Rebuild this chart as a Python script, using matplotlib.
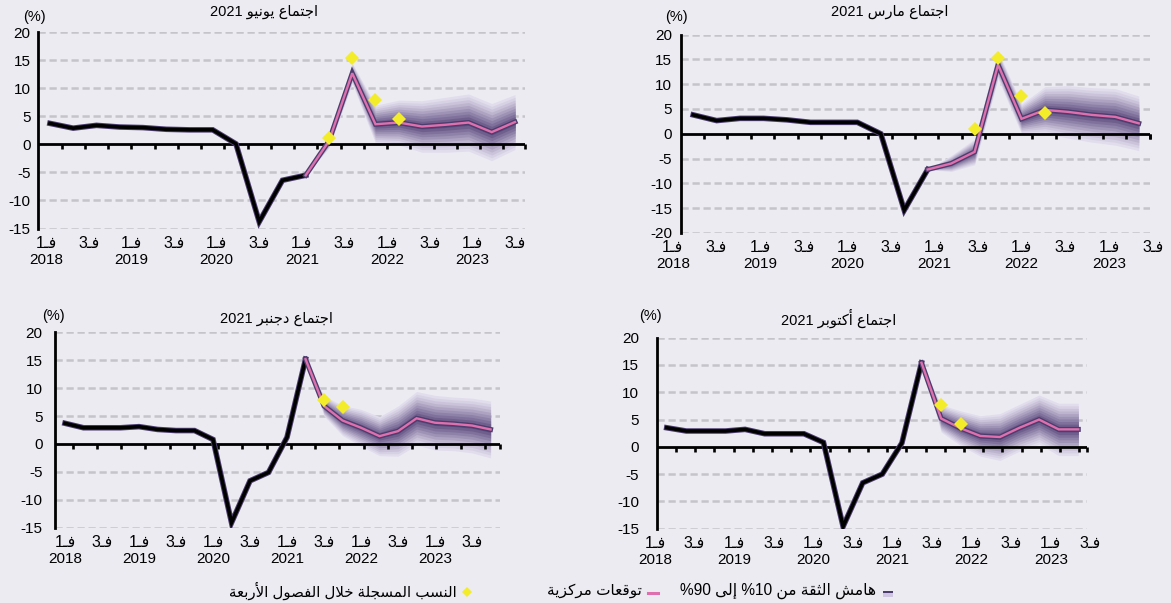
import re
import matplotlib
matplotlib.use('Agg')
import matplotlib.pyplot as plt
import matplotlib.markers as mmarkers
from matplotlib.patches import Rectangle
import numpy as np

plt.rcParams['font.family'] = ['Liberation Sans', 'DejaVu Sans']

# ---------------- data (quarter index 0 = 2018 Q1) ----------------
# June 2021 meeting
jun_hist = [3.75, 2.9, 3.4, 3.1, 3.0, 2.7, 2.6, 2.6, 0.1, -13.8, -6.4, -5.5]
jun_proj = [-5.5, 0.6, 12.7, 3.6, 3.9, 3.2, 3.5, 3.9, 2.2, 4.0]
jun_band = [0.0, 1.2, 1.8, 3.4, 4.0, 4.6, 4.9, 5.1, 5.1, 4.9]
jun_obs = [np.nan, 1.1, 15.4, 7.9, 4.5, np.nan, np.nan, np.nan, np.nan, np.nan]

# March 2021 meeting
mar_hist = [3.8, 2.65, 3.1, 3.1, 2.8, 2.3, 2.3, 2.3, 0.0, -15.4, -7.2]
mar_proj = [-7.2, -6.0, -3.65, 13.9, 3.0, 4.8, 4.4, 3.8, 3.4, 2.1]
mar_band = [0.0, 1.6, 2.6, 2.8, 3.0, 4.7, 5.3, 5.5, 5.7, 5.5]
mar_obs = [np.nan, np.nan, 1.0, 15.2, 7.7, 4.2, np.nan, np.nan, np.nan, np.nan]

# December 2021 meeting
dec_hist = [3.7, 2.9, 2.9, 2.9, 3.1, 2.6, 2.4, 2.4, 0.8, -14.1, -6.6, -5.1, 1.2, 15.2]
dec_proj = [15.2, 6.8, 4.2, 2.9, 1.4, 2.3, 4.6, 3.8, 3.6, 3.3, 2.6]
dec_band = [0.0, 1.8, 2.7, 3.3, 3.5, 4.5, 4.8, 4.9, 4.8, 4.9, 5.1]
dec_obs = [np.nan, 7.9, 6.7, np.nan, np.nan, np.nan, np.nan, np.nan, np.nan, np.nan, np.nan]

# October 2021 meeting
oct_hist = [3.5, 2.9, 2.9, 2.9, 3.2, 2.4, 2.4, 2.4, 0.8, -14.6, -6.6, -5.0, 0.7, 15.4]
oct_proj = [15.4, 5.2, 3.4, 2.0, 1.8, 3.5, 5.0, 3.2, 3.2]
oct_band = [0.0, 2.5, 3.2, 3.7, 4.3, 4.3, 4.5, 4.8, 4.8]
oct_obs = [np.nan, 7.7, 4.1, np.nan, np.nan, np.nan, np.nan, np.nan, np.nan]

quarter_labels = ['فـ1', 'فـ3'] * 6
year_labels = ['2018', '2019', '2020', '2021', '2022', '2023']

titles = ['اجتماع يونيو 2021', 'اجتماع مارس 2021', 'اجتماع دجنبر 2021', 'اجتماع أكتوبر 2021']
legend_texts = ['هامش الثقة من 10% إلى 90%', 'توقعات مركزية',
                'النسب المسجلة خلال الفصول الأربعة']

# ---------------- minimal Arabic shaping ----------------
DUAL = {'ئ': 0xFE89, 'ب': 0xFE8F, 'ت': 0xFE95, 'ث': 0xFE99, 'ج': 0xFE9D, 'ح': 0xFEA1,
        'خ': 0xFEA5, 'س': 0xFEB1, 'ش': 0xFEB5, 'ص': 0xFEB9, 'ض': 0xFEBD, 'ط': 0xFEC1,
        'ظ': 0xFEC5, 'ع': 0xFEC9, 'غ': 0xFECD, 'ف': 0xFED1, 'ق': 0xFED5, 'ك': 0xFED9,
        'ل': 0xFEDD, 'م': 0xFEE1, 'ن': 0xFEE5, 'ه': 0xFEE9, 'ي': 0xFEF1}
RIGHT = {'آ': 0xFE81, 'أ': 0xFE83, 'ؤ': 0xFE85, 'إ': 0xFE87, 'ا': 0xFE8D, 'ة': 0xFE93,
         'د': 0xFEA9, 'ذ': 0xFEAB, 'ر': 0xFEAD, 'ز': 0xFEAF, 'و': 0xFEED, 'ى': 0xFEEF}
LAM_ALEF = {'آ': 0xFEF5, 'أ': 0xFEF7, 'إ': 0xFEF9, 'ا': 0xFEFB}
TATWEEL = 'ـ'


def shape(s):
    def joins_next(c):
        return c in DUAL or c == TATWEEL

    def joins(c):
        return c in DUAL or c in RIGHT or c == TATWEEL

    out = []
    i = 0
    while i < len(s):
        c = s[i]
        prev = s[i - 1] if i > 0 else ''
        nxt = s[i + 1] if i + 1 < len(s) else ''
        cp = joins_next(prev) and joins(c)
        if c == 'ل' and nxt in LAM_ALEF:
            out.append(chr(LAM_ALEF[nxt] + (1 if cp else 0)))
            i += 2
            continue
        if c in DUAL:
            cn = joins(nxt)
            out.append(chr(DUAL[c] + {(False, False): 0, (True, False): 1,
                                      (False, True): 2, (True, True): 3}[(cp, cn)]))
        elif c in RIGHT:
            out.append(chr(RIGHT[c] + (1 if cp else 0)))
        else:
            out.append(c)
        i += 1
    return ''.join(out)


def ar(s):
    """Shape and put into visual (left-to-right) order; percent sign goes first,
    as in the source document."""
    t = shape(s)
    runs = re.findall(r'[0-9A-Za-z%.()]+|[^0-9A-Za-z%.()]+', t)
    vis = []
    for r in reversed(runs):
        if re.match(r'[0-9A-Za-z%.()]', r):
            if r.endswith('%'):
                r = '%' + r[:-1]
            vis.append(r)
        else:
            vis.append(r[::-1])
    return ''.join(vis)


# ---------------- styling ----------------
BG = '#ecebf2'
PINK = '#de70ad'
HALO = '#4c3d6e'
YELLOW = '#f3ec2a'
GRID = '#c5c4ca'
FS = 10
band_fracs = [1.0, 0.9, 0.8, 0.7, 0.6, 0.5, 0.4, 0.3, 0.2, 0.1]
c_out = np.array([0.885, 0.865, 0.93])
c_in = np.array([0.37, 0.30, 0.50])
band_cols = [c_out + (c_in - c_out) * (k / (len(band_fracs) - 1)) ** 1.15
             for k in range(len(band_fracs))]

W, H = 1171, 603
fig = plt.figure(figsize=(W / 100, H / 100), dpi=100, facecolor=BG)

# layout in pixels: left, right, top, bottom
panels = [
    dict(hist=jun_hist, proj=jun_proj, band=jun_band, obs=jun_obs,
         box=(38.3, 525, 32.3, 228.5), ylim=(-15, 20), xlim=(-0.5, 20.43),
         lab0=-0.17, labstep=1.834, tick0=0.5, tickstep=1.0, pad=5.5,
         title=(264, 12), pct=(34, 17)),
    dict(hist=mar_hist, proj=mar_proj, band=mar_band, obs=mar_obs,
         box=(681, 1150, 34.5, 233), ylim=(-20, 20), xlim=(-0.52, 19.48),
         lab0=-0.87, labstep=1.86, tick0=0.46, tickstep=1.0, pad=6.5,
         title=(890, 12), pct=(676, 17)),
    dict(hist=dec_hist, proj=dec_proj, band=dec_band, obs=dec_obs,
         box=(55, 500, 332.3, 527.7), ylim=(-15, 20), xlim=(-0.54, 23.51),
         lab0=0.0, labstep=2.0, tick0=0.42, tickstep=1.31, pad=9.0,
         title=(276, 319), pct=(53, 316)),
    dict(hist=oct_hist, proj=oct_proj, band=oct_band, obs=oct_obs,
         box=(657.3, 1087.3, 337.7, 528.7), ylim=(-15, 20), xlim=(-0.48, 21.46),
         lab0=-0.6, labstep=2.02, tick0=0.47, tickstep=0.98, pad=13.0,
         title=(839, 318), pct=(650, 316)),
]

for p, title in zip(panels, titles):
    l, r, t, b = p['box']
    ax = fig.add_axes([l / W, 1 - b / H, (r - l) / W, (b - t) / H])
    ax.set_facecolor('none')
    ax.set_xlim(*p['xlim'])
    ax.set_ylim(*p['ylim'])
    for s in ['top', 'right', 'bottom']:
        ax.spines[s].set_visible(False)
    ax.spines['left'].set_linewidth(2.0)
    ax.spines['left'].set_zorder(6)
    yt = np.arange(p['ylim'][0], p['ylim'][1] + 1, 5)
    ax.set_yticks(yt)
    ax.set_yticklabels([str(v) for v in yt])
    ax.tick_params(axis='y', length=0, pad=p['pad'], labelsize=FS + 1)
    ax.set_xticks([])

    for v in yt:
        if v != 0:
            ax.axhline(v, color=GRID, lw=1.8, ls=(0, (2.9, 1.5)), zorder=0)

    # fan chart
    n_hist = len(p['hist'])
    xp = np.arange(n_hist - 1, n_hist - 1 + len(p['proj']))
    cen = np.array(p['proj'])
    hw = np.array(p['band'])
    for f, col in zip(band_fracs, band_cols):
        ax.fill_between(xp, cen - f * hw, cen + f * hw, color=col, lw=0, zorder=2)

    # zero line with ticks
    ax.axhline(0, color='black', lw=2.0, zorder=3)
    tx = np.arange(p['tick0'], p['xlim'][1], p['tickstep'])
    tx = np.append(tx, p['xlim'][1] - 0.02)
    ax.plot(tx, np.zeros_like(tx), ls='none', marker=mmarkers.TICKDOWN,
            ms=3.6, mew=1.9, color='black', zorder=3, clip_on=False)

    # history
    xh = np.arange(n_hist)
    ax.plot(xh, p['hist'], color=HALO, lw=4.0, solid_joinstyle='miter', zorder=4)
    ax.plot(xh, p['hist'], color='black', lw=2.6, solid_joinstyle='miter', zorder=4)
    # central projection
    ax.plot(xp, cen, color=HALO, lw=3.6, solid_joinstyle='miter', zorder=4)
    ax.plot(xp, cen, color=PINK, lw=1.7, solid_joinstyle='miter', zorder=5)
    # observed values
    ax.plot(xp, p['obs'], ls='none', marker='D', ms=7, color=YELLOW, mew=0, zorder=7)

    # x labels
    for k, (ql, yl) in enumerate(zip(quarter_labels, [y for y in year_labels for _ in (0, 1)])):
        xl = p['lab0'] + k * p['labstep']
        ax.annotate(ar(ql), (xl, 0), xycoords=('data', 'axes fraction'),
                    xytext=(0, -10.5), textcoords='offset points',
                    ha='center', va='center', fontsize=FS + 1.5, annotation_clip=False)
        if k % 2 == 0:
            ax.annotate(yl, (xl, 0), xycoords=('data', 'axes fraction'),
                        xytext=(0, -22.5), textcoords='offset points',
                        ha='center', va='center', fontsize=FS + 1, annotation_clip=False)

# overlay in pixel coordinates for titles and legend
ov = fig.add_axes([0, 0, 1, 1], facecolor='none')
ov.set_xlim(0, W)
ov.set_ylim(H, 0)
ov.axis('off')
for p, title in zip(panels, titles):
    ov.text(p['title'][0], p['title'][1], ar(title), ha='center', va='center',
            fontsize=FS + 0.5)
    ov.text(p['pct'][0], p['pct'][1], '(%)', ha='center', va='center', fontsize=FS + 0.5)

# legend
ov.add_patch(Rectangle((883, 590.5), 10, 2.5, color='#4c3d6e', lw=0))
ov.add_patch(Rectangle((883, 593), 10, 3.5, color='#cfc7e2', lw=0))
ov.text(876, 591, ar(legend_texts[0]), ha='right', va='center', fontsize=FS + 1.2)
ov.plot([648, 658], [592.5, 592.5], color=PINK, lw=2.2)
ov.text(642, 591, ar(legend_texts[1]), ha='right', va='center', fontsize=FS + 1)
ov.plot([467], [592], ls='none', marker='D', ms=5, color=YELLOW, mew=0)
ov.text(457, 591, ar(legend_texts[2]), ha='right', va='center', fontsize=FS + 0.8)

fig.savefig('out.png', dpi=100, facecolor=BG)
